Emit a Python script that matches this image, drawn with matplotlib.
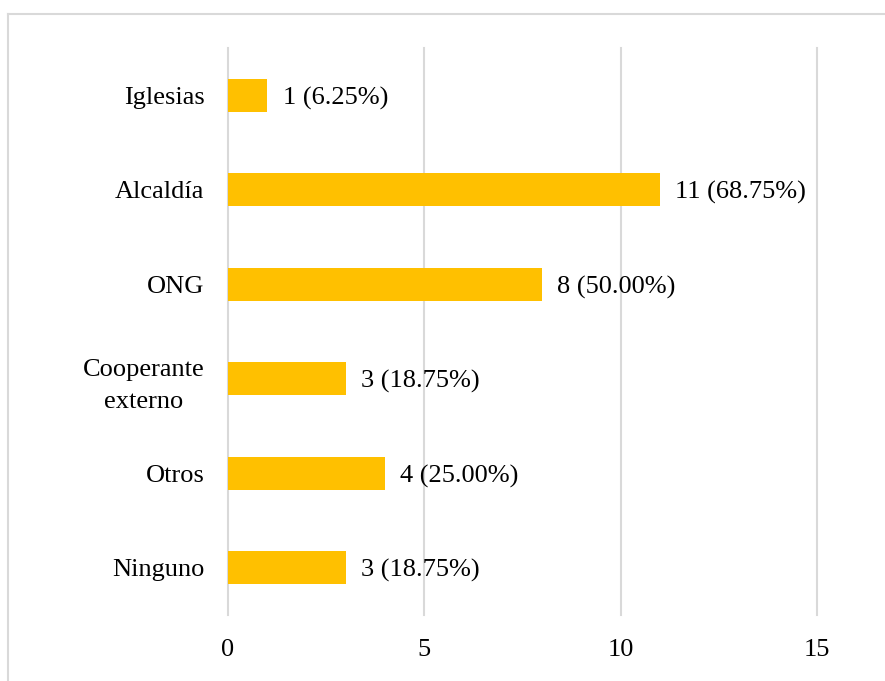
import matplotlib
matplotlib.use("Agg")
import matplotlib.pyplot as plt
from matplotlib.lines import Line2D

categories = ["Iglesias", "Alcaldía", "ONG", "Cooperante\nexterno", "Otros", "Ninguno"]
values = [1, 11, 8, 3, 4, 3]
percents = ["6.25%", "68.75%", "50.00%", "18.75%", "25.00%", "18.75%"]
xticks = [0, 5, 10, 15]

plt.rcParams['font.family'] = ['Liberation Serif', 'DejaVu Serif']

fig = plt.figure(figsize=(8.85, 6.81), dpi=100)
ax = fig.add_axes([228/885, 1-615/681, (817-228)/885, (615-48)/681])

ypos = list(range(len(categories)))
ax.barh(ypos, values, height=0.35, color="#FFC000", zorder=3)
for y, v, p in zip(ypos, values, percents):
    ax.annotate(f"{v} ({p})", (v, y), xytext=(11, -2), textcoords="offset points",
                va="center", ha="left", fontsize=19, color="#000000")

ax.set_xlim(0, 15)
ax.set_ylim(len(categories) - 0.5, -0.5)
ax.set_yticks(ypos)
ax.set_yticklabels(categories, fontsize=19, multialignment="center")
for lab in ax.get_yticklabels():
    lab.set_linespacing(1.6)
ax.set_xticks(xticks)
ax.set_xticklabels([str(t) for t in xticks], fontsize=19)
ax.tick_params(axis="both", length=0, pad=17)
ax.xaxis.grid(True, color="#D9D9D9", linewidth=1.5, zorder=0)
for gl in ax.get_xgridlines():
    gl.set_clip_on(False)
for s in ax.spines.values():
    s.set_visible(False)

# outer frame: only top and left edges visible in the reference crop
fig.add_artist(Line2D([8/885, 1], [1 - 13.5/681, 1 - 13.5/681],
                      transform=fig.transFigure, color="#D9D9D9", linewidth=1.5))
fig.add_artist(Line2D([8/885, 8/885], [0, 1 - 13.5/681],
                      transform=fig.transFigure, color="#D9D9D9", linewidth=1.5))

fig.savefig("out.png", dpi=100)
